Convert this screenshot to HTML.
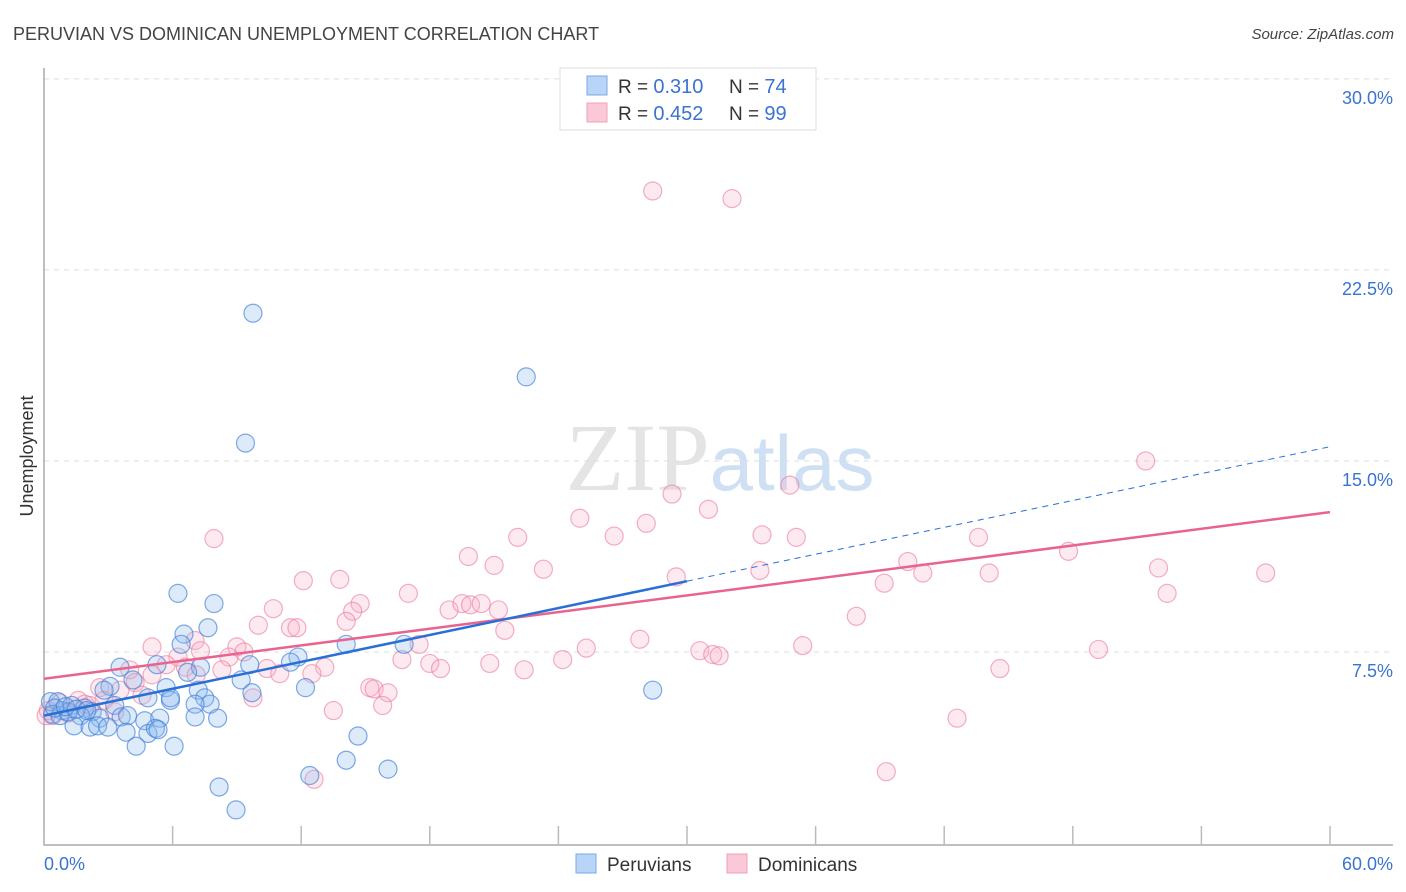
<!DOCTYPE html>
<html><head><meta charset="utf-8"><style>
body{margin:0;background:#fff;font-family:"Liberation Sans",sans-serif;}
</style></head><body>
<svg id="c" width="1406" height="892" xmlns="http://www.w3.org/2000/svg" style="display:block">
<text x="13" y="40" font-size="18" fill="#444" font-family="Liberation Sans">PERUVIAN VS DOMINICAN UNEMPLOYMENT CORRELATION CHART</text>
<text x="1394" y="39" font-size="15" fill="#444" font-style="italic" text-anchor="end">Source: ZipAtlas.com</text>
<text x="720" y="490" font-size="96" text-anchor="middle" fill="#e4e4e4" font-family="Liberation Serif">ZIP<tspan fill="#cfe0f4" font-family="Liberation Sans" font-size="78">atlas</tspan></text>
<g id="grid"></g>
<g id="axes"></g>
<g id="pts"></g>
<g id="trend"></g>
<text transform="translate(33,456) rotate(-90)" font-size="18" fill="#333" text-anchor="middle">Unemployment</text>
<g>
<rect x="560" y="68" width="256" height="62" fill="#fff" stroke="#ddd"/>
<rect x="587" y="76" width="20" height="19" fill="#b8d4f6" stroke="#7aaae6"/>
<rect x="587" y="103" width="20" height="19" fill="#fbc8d8" stroke="#f0a0b8"/>
<text x="618" y="93" font-size="19" fill="#333">R = <tspan fill="#3a74d0" font-size="20">0.310</tspan><tspan x="729">N = </tspan><tspan fill="#3a74d0" font-size="20">74</tspan></text>
<text x="618" y="120" font-size="19" fill="#333">R = <tspan fill="#3a74d0" font-size="20">0.452</tspan><tspan x="729">N = </tspan><tspan fill="#3a74d0" font-size="20">99</tspan></text>
</g>
<g>
<rect x="576" y="854" width="20" height="19" fill="#b8d4f6" stroke="#7aaae6"/>
<text x="607" y="871" font-size="19" fill="#333">Peruvians</text>
<rect x="727" y="854" width="20" height="19" fill="#fbc8d8" stroke="#f0a0b8"/>
<text x="758" y="871" font-size="19" fill="#333">Dominicans</text>
</g>
</svg>
<script>
const yTicks=[7.5,15.0,22.5,30.0];
const yTickLabels=["7.5%","15.0%","22.5%","30.0%"];
const xTicks=[0,6,12,18,24,30,36,42,48,54,60];
const xEndLabels=["0.0%","60.0%"];
const peruX=[9.75,22.5,9.4,6.25,7.93,7.65,6.53,6.4,16.8,14.1,11.85,11.5,3.55,5.27,7.3,9.6,6.7,9.2,4.15,3.08,5.7,7.2,2.8,12.2,9.7,28.4,7.5,4.85,5.9,7.75,7.05,3.3,0.3,0.65,0.85,1.3,1.9,2.25,0.4,0.75,1.7,2.6,3.6,3.9,4.7,5.4,7.05,8.1,1.4,2.15,2.5,2.98,3.83,4.85,5.2,5.32,4.3,6.07,14.65,14.1,12.4,16.05,8.17,8.96,5.9,1.12,0.5,1.0,1.5,2.0];
const peruY=[20.8,18.3,15.7,9.8,9.4,8.45,8.2,7.8,7.8,7.8,7.3,7.1,6.9,7.0,6.9,7.0,6.7,6.4,6.4,6.15,6.1,6.0,6.0,6.1,5.9,6.0,5.7,5.7,5.6,5.45,5.45,5.4,5.55,5.55,5.2,5.4,5.3,5.15,5.05,5.0,5.0,4.9,4.95,5.0,4.8,4.9,4.95,4.9,4.6,4.55,4.6,4.55,4.35,4.3,4.5,4.45,3.8,3.8,4.2,3.25,2.65,2.9,2.2,1.3,5.7,5.15,5.3,5.35,5.25,5.2];
const domX=[28.4,32.1,51.4,34.8,29.3,31.0,25.0,28.1,26.6,22.1,33.5,35.1,43.6,7.93,19.8,47.8,21.0,40.3,23.3,52.0,41.0,44.1,57.0,33.4,29.5,39.2,12.1,13.8,17.0,52.4,14.75,10.7,14.4,18.9,19.5,19.9,20.4,21.2,37.9,10.0,11.5,11.8,14.1,21.5,17.5,27.8,7.05,5.04,9.0,9.33,8.63,25.3,30.6,31.2,31.5,35.4,49.2,6.25,7.3,16.7,18.0,18.5,20.8,24.2,22.4,13.1,12.5,10.4,11.0,44.6,4.0,5.7,6.6,5.04,8.3,7.1,2.6,3.55,4.25,4.57,15.2,15.4,16.05,15.8,9.75,1.6,2.15,0.75,0.4,1.12,13.5,42.6,39.3,12.6,2.8,3.3,0.2,0.1,1.9];
const domY=[25.6,25.3,15.0,14.05,13.7,13.1,12.75,12.55,12.05,12.0,12.1,12.0,12.0,11.95,11.25,11.45,10.9,11.05,10.75,10.8,10.6,10.6,10.6,10.7,10.45,10.2,10.3,10.35,9.8,9.8,9.4,9.2,9.1,9.15,9.4,9.35,9.4,9.15,8.9,8.55,8.45,8.45,8.7,8.35,7.8,8.0,7.95,7.7,7.7,7.5,7.3,7.65,7.55,7.4,7.35,7.75,7.6,7.3,7.55,7.2,7.05,6.85,7.05,7.2,6.8,6.9,6.65,6.85,6.65,6.85,6.8,7.0,6.9,6.6,6.8,6.6,6.1,6.0,6.3,5.8,6.1,6.05,5.9,5.4,5.7,5.6,5.4,5.5,5.0,5.1,5.2,4.9,2.8,2.5,5.6,5.15,5.2,5.0,5.45];
const peruTrend=[5.0,0.176];  // intercept, slope
const domTrend=[6.45,0.109];
const X=v=>44+v*1286/60, Y=v=>843-v*25.47;
const NS="http://www.w3.org/2000/svg";
function mk(tag,parent,attrs){const e=document.createElementNS(NS,tag);for(const k in attrs)e.setAttribute(k,attrs[k]);document.getElementById(parent).appendChild(e);return e;}
yTicks.forEach((t,i)=>{
 const g=mk('line','grid',{x1:44,x2:1393,y1:Y(t),y2:Y(t),stroke:'#ddd','stroke-dasharray':'5,5'});
 
 
 const l=mk('text','grid',{x:1393,y:Y(t)+25,'font-size':18,fill:'#3a74d0','text-anchor':'end'});l.textContent=yTickLabels[i];
 
 
});
const ax=mk('path','axes',{d:'M44 68V845H1393',fill:'none',stroke:'#aaa','stroke-width':1.5});


xTicks.forEach(t=>{
 const k=mk('line','axes',{x1:X(t),x2:X(t),y1:826,y2:845,stroke:'#bbb','stroke-width':1.5});
 
 
});
const l0=mk('text','axes',{x:44,y:870,'font-size':18,fill:'#3a74d0'});l0.textContent=xEndLabels[0];


const l1=mk('text','axes',{x:1393,y:870,'font-size':18,fill:'#3a74d0','text-anchor':'end'});l1.textContent=xEndLabels[1];


domX.forEach((x,i)=>{
 const c=mk('circle','pts',{cx:X(x),cy:Y(domY[i]),r:9,fill:'rgba(248,170,195,0.25)',stroke:'rgba(236,120,155,0.6)','stroke-width':1.2});
 
 
});
peruX.forEach((x,i)=>{
 const c=mk('circle','pts',{cx:X(x),cy:Y(peruY[i]),r:9,fill:'rgba(140,185,240,0.3)',stroke:'rgba(60,125,215,0.65)','stroke-width':1.2});
 
 
});
const f=(t,x)=>t[0]+t[1]*x;
const pd=mk('line','trend',{x1:X(0),y1:Y(f(domTrend,0)),x2:X(60),y2:Y(f(domTrend,60)),stroke:'#e8648e','stroke-width':2.5});


const pb=mk('line','trend',{x1:X(0),y1:Y(f(peruTrend,0)),x2:X(30),y2:Y(f(peruTrend,30)),stroke:'#2a6fd6','stroke-width':2.5});


const pbd=mk('line','trend',{x1:X(30),y1:Y(f(peruTrend,30)),x2:X(60),y2:Y(f(peruTrend,60)),stroke:'#2a6fd6','stroke-width':1,'stroke-dasharray':'6,5'});


</script>
</body></html>
